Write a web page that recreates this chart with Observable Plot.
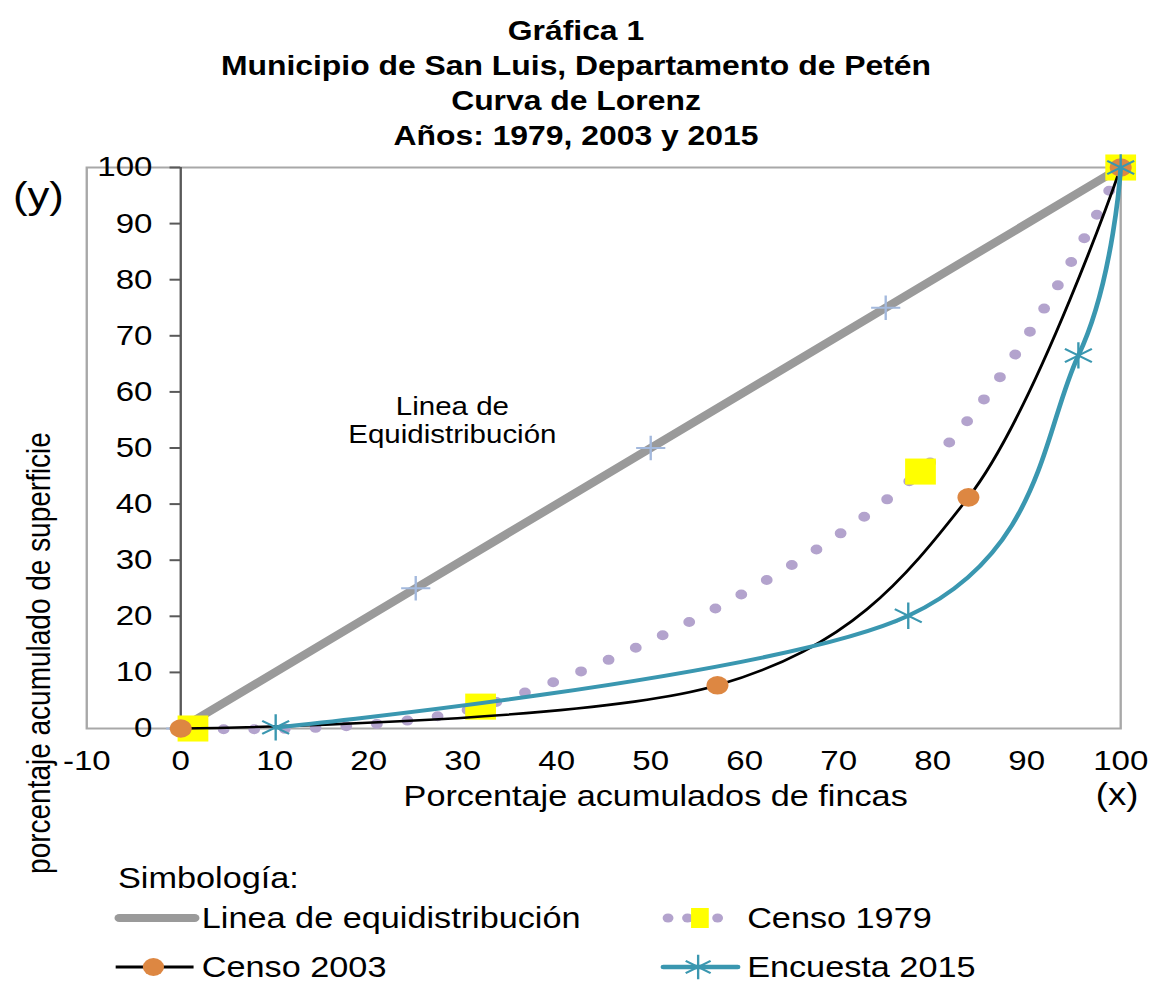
<!DOCTYPE html>
<html><head><meta charset="utf-8">
<script src="https://cdn.jsdelivr.net/npm/d3@7"></script>
<script src="https://cdn.jsdelivr.net/npm/@observablehq/plot@0.6"></script>
<style>
html,body{margin:0;padding:0;background:#fff;overflow:hidden}
#wrap{position:relative;width:976px;height:984px;transform:scaleX(1.1803);transform-origin:0 0;font-family:"Liberation Sans",Arial,sans-serif;color:#000}
#title{height:152px;box-sizing:border-box;padding-top:14px;text-align:center;font-weight:bold;font-size:27px;line-height:35px;overflow:visible}
#title div{white-space:nowrap;height:35px}
#chart svg{display:block}
.lgt{position:absolute;white-space:nowrap;height:20px;line-height:20px;font-size:29px}
.lgs{position:absolute;height:40px;overflow:visible}
</style></head>
<body><div id="wrap">
<div id="title"></div>
<div id="chart"></div>
<div id="legend"></div>
</div>
<script>
// ---- text ----
const titleLines = ["Gráfica 1", "Municipio de San Luis, Departamento de Petén", "Curva de Lorenz", "Años: 1979, 2003 y 2015"];
const xLabel = "Porcentaje acumulados de fincas";
const yLabel = "porcentaje acumulado de superficie";
const annotation = "Linea de\nEquidistribución";
const legendTitle = "Simbología:";
const seriesNames = ["Linea de equidistribución", "Censo 1979", "Censo 2003", "Encuesta 2015"];

// ---- ticks ----
const xTicks = [-10, 0, 10, 20, 30, 40, 50, 60, 70, 80, 90, 100];
const yTicks = [0, 10, 20, 30, 40, 50, 60, 70, 80, 90, 100];

// ---- series (cumulative % of farms, cumulative % of area) ----
const equiX = [0, 25, 50, 75, 100];
const equiY = [0, 25, 50, 75, 100];
const c1979X = [1.3, 31.9, 78.7, 100];
const c1979Y = [0, 3.9, 45.8, 100];
const c2003X = [0, 57.1, 83.8, 100];
const c2003Y = [0, 7.7, 41.2, 100];
const e2015X = [10.1, 77.4, 95.5, 100];
const e2015Y = [0.2, 20.1, 66.5, 100];

const rows = (xs, ys) => xs.map((x, i) => ({x, y: ys[i]}));
const equi = rows(equiX, equiY);
const c1979 = rows(c1979X, c1979Y);
const c2003 = rows(c2003X, c2003Y);
const e2015 = rows(e2015X, e2015Y);

const COL = {gray: "#9a9a9a", plus: "#a3b9dd", lav: "#b3a3cd", yellow: "#ffff00", orange: "#dd8742", teal: "#3a97b0", axis: "#595959", frame: "#a8a8a8"};

// title
document.getElementById("title").innerHTML = titleLines.map(t => `<div>${t}</div>`).join("");

const smooth = d3.curveCardinal.tension(0);
const lab = {textAnchor: "middle", lineAnchor: "middle"};

const chart = Plot.plot({
  width: 976, height: 832,
  marginTop: 15, marginBottom: 256, marginLeft: 73, marginRight: 27,
  x: {domain: [-10, 100], axis: null},
  y: {domain: [0, 100], axis: null},
  style: {fontFamily: '"Liberation Sans", Arial, sans-serif', background: "transparent", overflow: "visible", color: "#000"},
  marks: [
    Plot.frame({stroke: COL.frame, strokeWidth: 2}),
    Plot.ruleX([0], {y1: 0, y2: 100, stroke: COL.axis, strokeWidth: 2}),
    Plot.ruleY(yTicks, {x1: 0, x2: 0, insetLeft: -9, stroke: COL.axis, strokeWidth: 2}),
    Plot.text(yTicks, {x: 0, y: d => d, dx: -24, textAnchor: "end", fontSize: 28}),
    Plot.text(xTicks, {x: d => d, y: 0, dy: 33, fontSize: 28}),
    Plot.text([xLabel], {...lab, frameAnchor: "bottom", dx: 44, dy: 68, fontSize: 29}),
    Plot.text([yLabel], {...lab, frameAnchor: "left", dx: -40.5, dy: 205, rotate: -90, fontSize: 28}),
    Plot.text(["(y)"], {...lab, frameAnchor: "top-left", dx: -41, dy: 29, fontSize: 37}),
    Plot.text(["(x)"], {...lab, frameAnchor: "bottom-right", dx: -3, dy: 67, fontSize: 31}),
    Plot.text([annotation], {x: 28.9, y: 55, fontSize: 25, lineHeight: 1.1}),
    // equidistribution
    Plot.line(equi, {x: "x", y: "y", stroke: COL.gray, strokeWidth: 8}),
    Plot.dot(equi, {x: "x", y: "y", symbol: "plus", r: 8, fill: "none", stroke: COL.plus, strokeWidth: 2}),
    // 1979
    Plot.line(c1979, {x: "x", y: "y", curve: "catmull-rom", stroke: COL.lav, strokeWidth: 10, strokeDasharray: "0 26", strokeLinecap: "round"}),
    Plot.dot(c1979, {x: "x", y: "y", symbol: "square", r: 14.7, fill: COL.yellow, stroke: "none"}),
    // 2003
    Plot.line(c2003, {x: "x", y: "y", curve: smooth, stroke: "#000", strokeWidth: 2.5}),
    Plot.dot(c2003, {x: "x", y: "y", r: 9.3, fill: COL.orange, stroke: "none"}),
    // 2015
    Plot.line(e2015, {x: "x", y: "y", curve: smooth, stroke: COL.teal, strokeWidth: 4}),
    Plot.dot(e2015, {x: "x", y: "y", symbol: "asterisk", r: 12.5, fill: "none", stroke: COL.teal, strokeWidth: 2})
  ]
});
document.getElementById("chart").appendChild(chart);

// ---- legend ----
const lg = document.getElementById("legend");
function addText(txt, left, cy) {
  const d = document.createElement("div");
  d.className = "lgt"; d.style.left = left + "px"; d.style.top = (cy - 9.6) + "px";
  d.textContent = txt; lg.appendChild(d);
}
function addSwatch(left, cy, w, draw) {
  const svg = d3.create("svg").attr("class", "lgs").attr("width", w).attr("height", 40)
    .style("left", left + "px").style("top", (cy - 20) + "px");
  draw(svg); lg.appendChild(svg.node());
}
addText(legendTitle, 100, 878);
// row 1
addSwatch(97, 918, 72, s => s.append("line").attr("x1", 4).attr("x2", 68).attr("y1", 20).attr("y2", 20)
  .attr("stroke", COL.gray).attr("stroke-width", 8).attr("stroke-linecap", "round"));
addText(seriesNames[0], 171, 918);
addSwatch(558, 918, 60, s => {
  [8, 24.5, 50].forEach(x => s.append("circle").attr("cx", x).attr("cy", 20).attr("r", 4.6).attr("fill", COL.lav));
  s.append("rect").attr("x", 27.5).attr("y", 10).attr("width", 15).attr("height", 20).attr("fill", COL.yellow);
});
addText(seriesNames[1], 633, 918);
// row 2
const row2 = 967;
addSwatch(97, row2, 70, s => {
  s.append("line").attr("x1", 1).attr("x2", 67).attr("y1", 20).attr("y2", 20).attr("stroke", "#000").attr("stroke-width", 3);
  s.append("circle").attr("cx", 33).attr("cy", 20).attr("r", 9).attr("fill", COL.orange);
});
addText(seriesNames[2], 171, row2);
addSwatch(558, row2, 72, s => {
  s.append("line").attr("x1", 4).attr("x2", 67).attr("y1", 20).attr("y2", 20).attr("stroke", COL.teal).attr("stroke-width", 4.5).attr("stroke-linecap", "round");
  s.append("path").attr("transform", "translate(33.5,20)").attr("d", d3.symbol(d3.symbolAsterisk, 420)())
    .attr("fill", "none").attr("stroke", COL.teal).attr("stroke-width", 2);
});
addText(seriesNames[3], 633, row2);
</script>
</body></html>
